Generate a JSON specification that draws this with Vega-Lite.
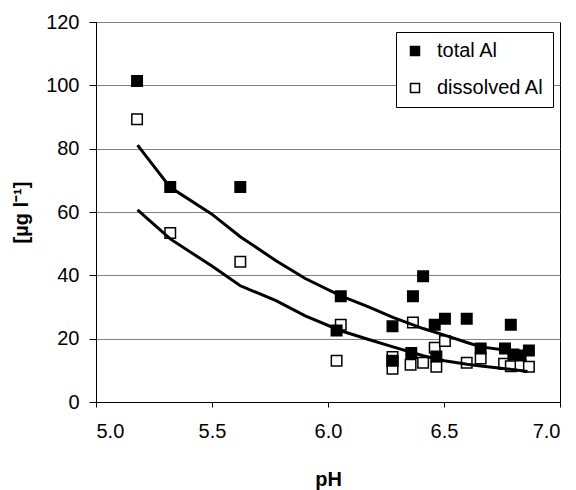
{
  "$schema": "https://vega.github.io/schema/vega-lite/v6.json",
  "autosize": "none",
  "width": 464,
  "height": 380,
  "padding": {"left": 96, "top": 22, "right": 16, "bottom": 88},
  "background": "white",
  "config": {
    "font": "Liberation Sans",
    "view": {"stroke": "black", "strokeWidth": 1},
    "axis": {
      "labelFont": "Liberation Sans",
      "labelFontSize": 20,
      "labelColor": "black",
      "titleFont": "Liberation Sans",
      "titleFontSize": 20,
      "titleFontWeight": "bold",
      "titleColor": "black",
      "domainColor": "black",
      "tickColor": "black",
      "gridColor": "#808080",
      "gridWidth": 1
    }
  },
  "datasets": {
    "pts": [
      {"pH": 5.177, "al": 89.3, "series": "dissolved Al"},
      {"pH": 5.320, "al": 53.4, "series": "dissolved Al"},
      {"pH": 5.622, "al": 44.3, "series": "dissolved Al"},
      {"pH": 6.055, "al": 24.4, "series": "dissolved Al"},
      {"pH": 6.037, "al": 13.0, "series": "dissolved Al"},
      {"pH": 6.278, "al": 14.2, "series": "dissolved Al"},
      {"pH": 6.278, "al": 12.9, "series": "dissolved Al"},
      {"pH": 6.278, "al": 10.5, "series": "dissolved Al"},
      {"pH": 6.356, "al": 11.8, "series": "dissolved Al"},
      {"pH": 6.366, "al": 25.1, "series": "dissolved Al"},
      {"pH": 6.410, "al": 12.4, "series": "dissolved Al"},
      {"pH": 6.460, "al": 17.1, "series": "dissolved Al"},
      {"pH": 6.467, "al": 11.1, "series": "dissolved Al"},
      {"pH": 6.504, "al": 19.3, "series": "dissolved Al"},
      {"pH": 6.598, "al": 12.4, "series": "dissolved Al"},
      {"pH": 6.658, "al": 13.7, "series": "dissolved Al"},
      {"pH": 6.759, "al": 12.1, "series": "dissolved Al"},
      {"pH": 6.788, "al": 11.3, "series": "dissolved Al"},
      {"pH": 6.830, "al": 11.6, "series": "dissolved Al"},
      {"pH": 6.866, "al": 11.1, "series": "dissolved Al"},
      {"pH": 5.177, "al": 101.4, "series": "total Al"},
      {"pH": 5.320, "al": 67.9, "series": "total Al"},
      {"pH": 5.622, "al": 67.9, "series": "total Al"},
      {"pH": 6.055, "al": 33.4, "series": "total Al"},
      {"pH": 6.037, "al": 22.6, "series": "total Al"},
      {"pH": 6.278, "al": 23.9, "series": "total Al"},
      {"pH": 6.278, "al": 13.0, "series": "total Al"},
      {"pH": 6.366, "al": 33.4, "series": "total Al"},
      {"pH": 6.410, "al": 39.7, "series": "total Al"},
      {"pH": 6.359, "al": 15.5, "series": "total Al"},
      {"pH": 6.460, "al": 24.4, "series": "total Al"},
      {"pH": 6.504, "al": 26.3, "series": "total Al"},
      {"pH": 6.467, "al": 14.4, "series": "total Al"},
      {"pH": 6.598, "al": 26.3, "series": "total Al"},
      {"pH": 6.658, "al": 16.9, "series": "total Al"},
      {"pH": 6.788, "al": 24.4, "series": "total Al"},
      {"pH": 6.763, "al": 16.9, "series": "total Al"},
      {"pH": 6.799, "al": 15.0, "series": "total Al"},
      {"pH": 6.830, "al": 14.7, "series": "total Al"},
      {"pH": 6.866, "al": 16.3, "series": "total Al"}
    ],
    "fit": [
      {"pH": 5.179, "al": 81.1, "series": "total"},
      {"pH": 5.320, "al": 67.8, "series": "total"},
      {"pH": 5.498, "al": 59.4, "series": "total"},
      {"pH": 5.622, "al": 52.2, "series": "total"},
      {"pH": 5.776, "al": 44.6, "series": "total"},
      {"pH": 5.902, "al": 39.0, "series": "total"},
      {"pH": 6.055, "al": 33.5, "series": "total"},
      {"pH": 6.172, "al": 30.1, "series": "total"},
      {"pH": 6.280, "al": 26.7, "series": "total"},
      {"pH": 6.410, "al": 23.2, "series": "total"},
      {"pH": 6.502, "al": 21.1, "series": "total"},
      {"pH": 6.599, "al": 18.8, "series": "total"},
      {"pH": 6.659, "al": 17.4, "series": "total"},
      {"pH": 6.762, "al": 16.4, "series": "total"},
      {"pH": 6.850, "al": 15.1, "series": "total"},
      {"pH": 5.179, "al": 60.7, "series": "dissolved"},
      {"pH": 5.320, "al": 51.5, "series": "dissolved"},
      {"pH": 5.498, "al": 43.0, "series": "dissolved"},
      {"pH": 5.622, "al": 36.7, "series": "dissolved"},
      {"pH": 5.776, "al": 32.0, "series": "dissolved"},
      {"pH": 5.902, "al": 27.2, "series": "dissolved"},
      {"pH": 6.055, "al": 22.5, "series": "dissolved"},
      {"pH": 6.172, "al": 19.8, "series": "dissolved"},
      {"pH": 6.280, "al": 17.4, "series": "dissolved"},
      {"pH": 6.410, "al": 14.6, "series": "dissolved"},
      {"pH": 6.502, "al": 13.0, "series": "dissolved"},
      {"pH": 6.599, "al": 11.9, "series": "dissolved"},
      {"pH": 6.659, "al": 11.4, "series": "dissolved"},
      {"pH": 6.764, "al": 10.5, "series": "dissolved"},
      {"pH": 6.860, "al": 9.6, "series": "dissolved"}
    ]
  },
  "layer": [
    {
      "data": {"name": "pts"},
      "mark": {"type": "point", "shape": "square", "size": 110, "filled": false, "stroke": "black", "strokeWidth": 1.5, "opacity": 1},
      "encoding": {
        "x": {
          "field": "pH", "type": "quantitative",
          "scale": {"domain": [5, 7], "nice": false, "zero": false},
          "axis": {"values": [5, 5.5, 6, 6.5, 7], "format": ".1f", "grid": false, "tickSize": 5, "labelPadding": 14, "titlePadding": 28, "title": "pH"}
        },
        "y": {
          "field": "al", "type": "quantitative",
          "scale": {"domain": [0, 120], "nice": false},
          "axis": {"values": [0, 20, 40, 60, 80, 100, 120], "grid": true, "tickSize": 7, "labelPadding": 10, "titlePadding": 14, "title": "[µg l⁻¹]"}
        },
        "fill": {
          "field": "series", "type": "nominal",
          "scale": {"domain": ["total Al", "dissolved Al"], "range": ["black", "white"]},
          "legend": {
            "title": null,
            "orient": "none",
            "legendX": 300,
            "legendY": 10,
            "direction": "vertical",
            "padding": 9,
            "strokeColor": "black",
            "fillColor": "white",
            "symbolType": "square",
            "symbolSize": 81,
            "symbolStrokeColor": "black",
            "symbolStrokeWidth": 1.5,
            "labelFont": "Liberation Sans",
            "labelFontSize": 20,
            "labelColor": "black",
            "labelOffset": 12,
            "rowPadding": 17
          }
        }
      }
    },
    {
      "data": {"name": "fit"},
      "mark": {"type": "line", "color": "black", "strokeWidth": 3},
      "encoding": {
        "x": {"field": "pH", "type": "quantitative"},
        "y": {"field": "al", "type": "quantitative"},
        "detail": {"field": "series", "type": "nominal"}
      }
    }
  ]
}
